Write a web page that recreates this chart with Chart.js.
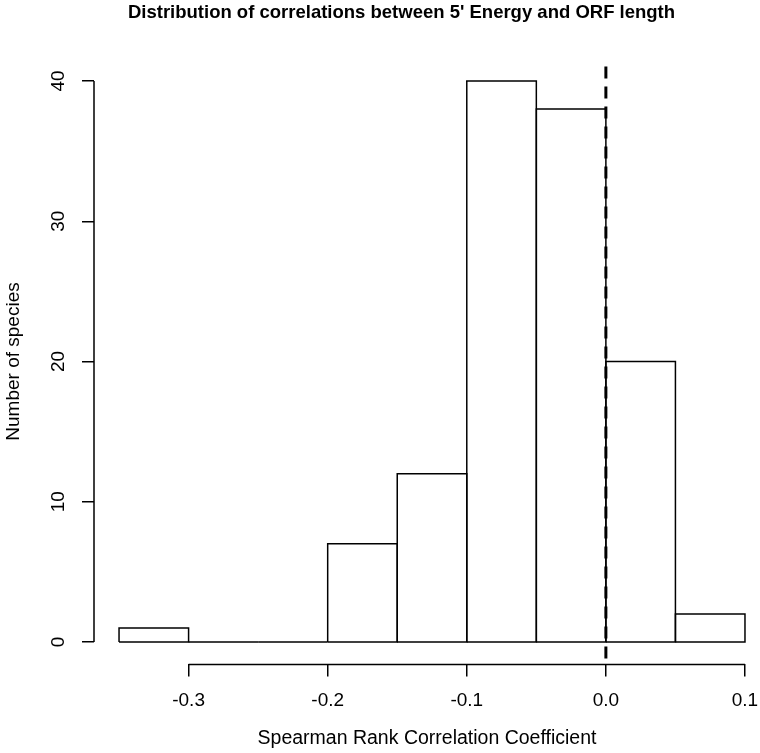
<!DOCTYPE html>
<html><head><meta charset="utf-8">
<script src="https://cdn.jsdelivr.net/npm/chart.js@4.4.1/dist/chart.umd.min.js"></script>
<style>html,body{margin:0;padding:0;background:#fff}#wrap{width:760px;height:753px;position:relative}</style>
</head><body><div id="wrap"><canvas id="c" width="760" height="753"></canvas></div>
<script>
// ---- data ----
const binEdges = [-0.35, -0.3, -0.25, -0.2, -0.15, -0.1, -0.05, 0, 0.05, 0.1];
const binCounts = [1, 0, 0, 7, 12, 40, 38, 20, 2];
const xTicks = [-0.3, -0.2, -0.1, 0, 0.1];
const xTickLabels = ['-0.3', '-0.2', '-0.1', '0.0', '0.1'];
const yTicks = [0, 10, 20, 30, 40];
const yTickLabels = ['0', '10', '20', '30', '40'];
const refLineX = 0;
const xRange = [-0.368, 0.1108];
const yRange = [-1.6, 41.6];
const titleText = "Distribution of correlations between 5' Energy and ORF length";
const xTitle = 'Spearman Rank Correlation Coefficient';
const yTitle = 'Number of species';

const FONT = "'Liberation Sans', Arial, Helvetica, sans-serif";
Chart.defaults.font.family = FONT;
Chart.defaults.color = '#000';

const barSets = binCounts.map((c, i) => ({
  data: [
    {x: binEdges[i], y: 0}, {x: binEdges[i], y: c},
    {x: binEdges[i + 1], y: c}, {x: binEdges[i + 1], y: 0},
    {x: binEdges[i], y: 0}
  ],
  showLine: true, borderColor: '#000', borderWidth: 1.5,
  pointRadius: 0, fill: false, tension: 0, borderJoinStyle: 'miter'
}));

const refSet = {
  data: [{x: refLineX, y: yRange[1]}, {x: refLineX, y: yRange[0]}],
  showLine: true, borderColor: '#000', borderWidth: 3,
  borderDash: [12, 8], borderDashOffset: 12,
  pointRadius: 0, fill: false
};

const axisLines = {
  id: 'axisLines',
  afterDraw(chart) {
    const {ctx, chartArea, scales} = chart;
    ctx.save();
    ctx.strokeStyle = '#000';
    ctx.lineWidth = 1.5;
    ctx.beginPath();
    ctx.moveTo(scales.x.getPixelForValue(xTicks[0]), chartArea.bottom);
    ctx.lineTo(scales.x.getPixelForValue(xTicks[xTicks.length - 1]), chartArea.bottom);
    ctx.moveTo(chartArea.left, scales.y.getPixelForValue(yTicks[0]));
    ctx.lineTo(chartArea.left, scales.y.getPixelForValue(yTicks[yTicks.length - 1]));
    ctx.stroke();
    ctx.restore();
  }
};

new Chart(document.getElementById('c'), {
  type: 'scatter',
  data: {datasets: [...barSets, refSet]},
  options: {
    responsive: false, animation: false,
    layout: {padding: {left: 43, right: 0, top: 0, bottom: 0}},
    plugins: {
      legend: {display: false}, tooltip: {enabled: false},
      title: {display: true, text: titleText, color: '#000',
        font: {size: 18.5, weight: 'bold', family: FONT},
        padding: {top: 1.4, bottom: 35}}
    },
    scales: {
      x: {
        type: 'linear', min: xRange[0], max: xRange[1],
        afterBuildTicks: s => { s.ticks = xTicks.map(v => ({value: v})); },
        afterFit: s => { s.height = 88.6; s.paddingLeft = 0; s.paddingRight = 0; },
        ticks: {callback: (v, i) => xTickLabels[i], font: {size: 19}, padding: 13.2, maxRotation: 0, color: '#000'},
        grid: {drawOnChartArea: false, drawTicks: true, tickLength: 12, color: '#000', lineWidth: 1.5},
        border: {display: false},
        title: {display: true, text: xTitle, font: {size: 19.5}, color: '#000', padding: {top: 0, bottom: 2.6}}
      },
      y: {
        type: 'linear', min: yRange[0], max: yRange[1],
        afterBuildTicks: s => { s.ticks = yTicks.map(v => ({value: v})); },
        afterFit: s => { s.width = 51; s.paddingTop = 0; s.paddingBottom = 0; },
        ticks: {callback: (v, i) => yTickLabels[i], font: {size: 19}, padding: 12.4, minRotation: 90, maxRotation: 90, crossAlign: 'center', color: '#000'},
        grid: {drawOnChartArea: false, drawTicks: true, tickLength: 12, color: '#000', lineWidth: 1.5},
        border: {display: false},
        title: {display: true, text: yTitle, font: {size: 19}, color: '#000', padding: {top: -40.4, bottom: 0}}
      }
    }
  },
  plugins: [axisLines]
});
</script>
</body></html>
